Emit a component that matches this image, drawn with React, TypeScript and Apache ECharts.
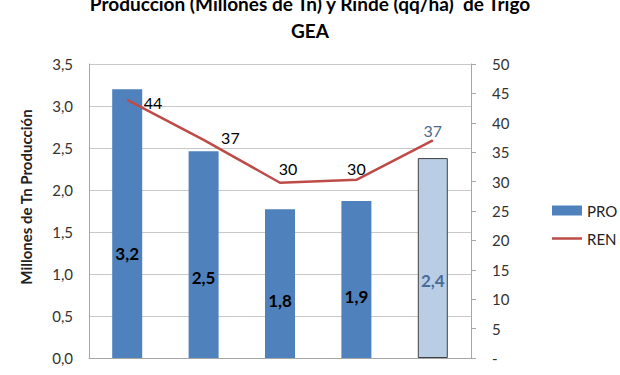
import React, { useEffect, useRef } from "react";
import * as echarts from "echarts";

const categories = ["Campaña 1", "Campaña 2", "Campaña 3", "Campaña 4", "Campaña 5"];
const produccion = [3.2, 2.46, 1.77, 1.87, 2.38];
const rinde = [43.9, 37.1, 29.8, 30.3, 37.0];
const titleLine1 = "Producción (Millones de Tn) y Rinde (qq/ha)  de Trigo";
const titleLine2 = "GEA";
const yName = "Millones de Tn Producción";

const FONT = "Lato, 'Liberation Sans', sans-serif";

export default function App() {
  const ref = useRef<HTMLDivElement>(null);
  useEffect(() => {
    if (!ref.current) return;
    const chart = echarts.init(ref.current, undefined, { renderer: "svg" });
    const lastIdx = produccion.length - 1;
    const barData = produccion.map((v, i) =>
      i === lastIdx
        ? {
            value: v,
            itemStyle: { color: "#B9CDE5", borderColor: "#404040", borderWidth: 1 },
            label: { color: "#4A6B9A" },
          }
        : { value: v }
    );
    const lineLabelCfg = [
      { position: "right", distance: 16, offset: [0, 3] },
      { position: "right", distance: 17, offset: [0, -2] },
      { position: "top", distance: 6, offset: [8, 0] },
      { position: "top", distance: 3, offset: [0, 0] },
      { position: "top", distance: 1, offset: [0, 0], color: "#50698C" },
    ];
    const lineData = rinde.map((v, i) => ({ value: v, label: { show: true, ...lineLabelCfg[i] } }));

    chart.setOption({
      animation: false,
      textStyle: { fontFamily: FONT },
      title: [
        {
          text: titleLine1,
          left: "center",
          top: -8,
          padding: [0, 0, 0, 26],
          textStyle: { fontFamily: FONT, fontSize: 19, fontWeight: "bold", color: "#000", lineHeight: 22 },
        },
        {
          text: titleLine2,
          left: "center",
          top: 19,
          padding: [0, 0, 0, 24],
          textStyle: { fontFamily: FONT, fontSize: 19, fontWeight: "bold", color: "#000", lineHeight: 22 },
        },
      ],
      legend: {
        orient: "vertical",
        left: 547,
        top: 198,
        itemWidth: 30,
        itemHeight: 10,
        itemGap: 13,
        textStyle: { fontFamily: FONT, fontSize: 15, color: "#222" },
        data: [
          { name: "PRO", icon: "rect" },
          { name: "REN", icon: "path://M0,0 L30,0 L30,2.5 L0,2.5 Z", itemStyle: { color: "#BE4B48" } },
        ],
      },
      grid: { left: 89, right: 149, top: 64, bottom: 17, containLabel: false },
      xAxis: {
        type: "category",
        data: categories,
        axisLine: { show: true, lineStyle: { color: "#A6A6A6" } },
        axisTick: { show: false },
        axisLabel: { show: false },
      },
      yAxis: [
        {
          type: "value",
          min: 0,
          max: 3.5,
          interval: 0.5,
          axisLine: { show: true, lineStyle: { color: "#A6A6A6" } },
          axisTick: { show: false },
          axisLabel: {
            margin: 16,
            fontFamily: FONT,
            fontSize: 15,
            color: "#333",
            formatter: (v: number) => v.toFixed(1).replace(".", ","),
          },
          splitLine: { show: true, lineStyle: { color: "#C8C8C8" } },
        },
        {
          type: "value",
          min: 0,
          max: 50,
          interval: 5,
          position: "right",
          axisLine: { show: true, lineStyle: { color: "#A6A6A6" } },
          axisTick: { show: true, inside: false, length: 5, lineStyle: { color: "#A6A6A6" } },
          axisLabel: {
            margin: 21,
            fontFamily: FONT,
            fontSize: 15,
            color: "#333",
            formatter: (v: number) => (v === 0 ? "-" : String(v)),
          },
          splitLine: { show: false },
        },
      ],
      series: [
        {
          name: "PRO",
          type: "bar",
          yAxisIndex: 0,
          data: barData,
          barWidth: 30,
          itemStyle: { color: "#4F81BD" },
          label: {
            show: true,
            position: ["50%", "61%"],
            align: "center",
            verticalAlign: "middle",
            fontFamily: FONT,
            fontSize: 17,
            fontWeight: "bold",
            color: "#000",
            formatter: (p: any) => Number(p.value).toFixed(1).replace(".", ","),
          },
        },
        {
          name: "REN",
          type: "line",
          yAxisIndex: 1,
          data: lineData,
          symbol: "circle",
          symbolSize: 1,
          showSymbol: true,
          lineStyle: { color: "#BE4B48", width: 2.5 },
          itemStyle: { color: "#BE4B48" },
          label: {
            show: true,
            fontFamily: FONT,
            fontSize: 16,
            color: "#000",
            formatter: (p: any) => String(Math.round(Number(p.value))),
          },
        },
      ],
      graphic: [
        {
          type: "text",
          x: 26,
          y: 197,
          rotation: Math.PI / 2,
          style: {
            text: yName,
            fontFamily: FONT,
            fontSize: 15,
            fontWeight: "bold",
            fill: "#222",
            align: "center",
            verticalAlign: "middle",
          },
        },
      ],
    });
    return () => chart.dispose();
  }, []);
  return <div ref={ref} style={{ width: 620, height: 375, position: "absolute", left: 0, top: 0 }} />;
}
